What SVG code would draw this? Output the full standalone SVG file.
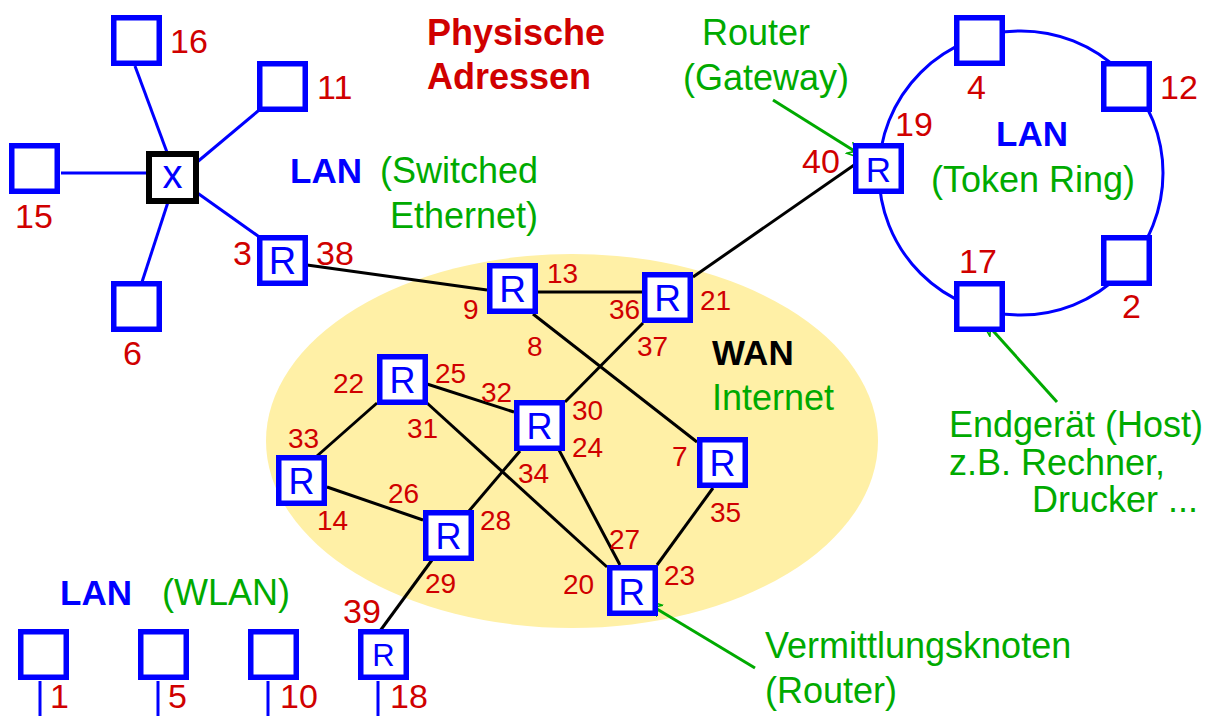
<svg xmlns="http://www.w3.org/2000/svg" width="1215" height="716" viewBox="0 0 1215 716">
<style>
.box{fill:#fff;stroke:#0000ff;stroke-width:5.5}
.sw{fill:#fff;stroke:#000;stroke-width:6}
.bl{stroke:#0000ff;stroke-width:3;fill:none}
.bk{stroke:#000;stroke-width:3;fill:none}
.gr{stroke:#00aa00;stroke-width:3;fill:none}
.num{font-family:"Liberation Sans",Arial,sans-serif;font-size:34px;fill:#d00000}
.sn{font-family:"Liberation Sans",Arial,sans-serif;font-size:28px;fill:#d00000}
.r{font-family:"Liberation Sans",Arial,sans-serif;font-size:36px;fill:#0000ff;text-anchor:middle}
.lan{font-family:"Liberation Sans",Arial,sans-serif;font-size:35px;font-weight:bold;fill:#0000ff}
.g{font-family:"Liberation Sans",Arial,sans-serif;font-size:36px;fill:#00aa00}
.title{font-family:"Liberation Sans",Arial,sans-serif;font-size:36px;font-weight:bold;fill:#d00000}
</style>
<defs>
<marker id="arr" markerUnits="userSpaceOnUse" markerWidth="30" markerHeight="16" refX="27" refY="7" orient="auto">
<path d="M27,7 L1,1 L7,7 L1,13 Z" fill="#fff" stroke="#00aa00" stroke-width="1.6"/>
</marker>
</defs>
<rect width="1215" height="716" fill="#fff"/>
<ellipse id="wan-area" cx="572" cy="441" rx="306" ry="187" fill="#fff0a6"/>
<circle id="ring" cx="1021" cy="173" r="142" class="bl"/>

<g id="connectors">
<line class="bl" x1="135" y1="66" x2="168" y2="155"/>
<line class="bl" x1="258" y1="111" x2="196" y2="163"/>
<line class="bl" x1="61" y1="173" x2="146" y2="173"/>
<line class="bl" x1="168" y1="202" x2="142" y2="282"/>
<line class="bl" x1="196" y1="192" x2="258" y2="236"/>
<line class="bl" x1="40" y1="681" x2="40" y2="716"/>
<line class="bl" x1="158" y1="681" x2="158" y2="716"/>
<line class="bl" x1="268" y1="681" x2="268" y2="716"/>
<line class="bl" x1="378" y1="681" x2="378" y2="716"/>
<line class="bk" x1="307" y1="265" x2="487" y2="290"/>
<line class="bk" x1="537" y1="292" x2="642" y2="292"/>
<line class="bk" x1="533" y1="314" x2="697" y2="442"/>
<line class="bk" x1="643" y1="323" x2="565" y2="402"/>
<line class="bk" x1="693" y1="277" x2="857" y2="163"/>
<line class="bk" x1="377" y1="403" x2="317" y2="456"/>
<line class="bk" x1="427" y1="384" x2="514" y2="412"/>
<line class="bk" x1="427" y1="403" x2="607" y2="567"/>
<line class="bk" x1="327" y1="487" x2="423" y2="520"/>
<line class="bk" x1="520" y1="451" x2="469" y2="511"/>
<line class="bk" x1="559" y1="450" x2="620" y2="565"/>
<line class="bk" x1="713" y1="488" x2="657" y2="565"/>
<line class="bk" x1="380" y1="631" x2="432" y2="560"/>
<line class="gr" x1="773" y1="100" x2="872" y2="162" marker-end="url(#arr)"/>
<line class="gr" x1="1057" y1="402" x2="977" y2="313" marker-end="url(#arr)"/>
<line class="gr" x1="755" y1="668" x2="637" y2="597" marker-end="url(#arr)"/>
</g>

<g id="n16"><rect class="box" x="113.75" y="17.75" width="45.5" height="45.5"/><text class="num" x="170" y="53">16</text></g>
<g id="n11"><rect class="box" x="259.75" y="63.75" width="45.5" height="45.5"/><text class="num" x="317" y="99">11</text></g>
<g id="n15"><rect class="box" x="11.75" y="145.75" width="45.5" height="45.5"/><text class="num" x="15" y="228">15</text></g>
<g id="n6"><rect class="box" x="113.75" y="283.75" width="45.5" height="45.5"/><text class="num" x="123" y="365">6</text></g>
<g id="switch"><rect class="sw" x="149" y="154" width="47" height="47"/><text x="172.5" y="188" font-family="Liberation Sans, Arial, sans-serif" font-size="40" fill="#0000ff" text-anchor="middle">x</text></g>
<g id="r3"><rect class="box" x="259.75" y="237.75" width="45.5" height="45.5"/><text class="r" x="282.5" y="274" style="font-size:38px">R</text><text class="num" x="233" y="265">3</text><text class="num" x="316" y="265">38</text></g>

<g id="n4"><rect class="box" x="956.75" y="17.75" width="45.5" height="45.5"/><text class="num" x="967" y="99">4</text></g>
<g id="n12"><rect class="box" x="1103.75" y="63.75" width="45.5" height="45.5"/><text class="num" x="1160" y="99">12</text></g>
<g id="r40"><rect class="box" x="855.75" y="145.75" width="45.5" height="45.5"/><text class="r" x="878.5" y="182" style="font-size:35px">R</text><text class="num" x="895" y="136">19</text><text class="num" x="802" y="173">40</text></g>
<g id="n2"><rect class="box" x="1103.75" y="237.75" width="45.5" height="45.5"/><text class="num" x="1122" y="318">2</text></g>
<g id="n17"><rect class="box" x="956.75" y="283.75" width="45.5" height="45.5"/><text class="num" x="959" y="273">17</text></g>

<g id="r9"><rect class="box" x="489.75" y="265.75" width="45.5" height="45.5"/><text class="r" x="512.5" y="302" style="font-size:37px">R</text><text class="sn" x="547" y="283">13</text><text class="sn" x="463" y="319">9</text><text class="sn" x="527" y="356">8</text></g>
<g id="r21"><rect class="box" x="644.75" y="274.75" width="45.5" height="45.5"/><text class="r" x="667.5" y="311" style="font-size:37px">R</text><text class="sn" x="609" y="319">36</text><text class="sn" x="700" y="310">21</text><text class="sn" x="637" y="356">37</text></g>
<g id="r22"><rect class="box" x="379.75" y="356.75" width="45.5" height="45.5"/><text class="r" x="402.5" y="392.5">R</text><text class="sn" x="333" y="393">22</text><text class="sn" x="435" y="383">25</text><text class="sn" x="407" y="438">31</text></g>
<g id="r30"><rect class="box" x="516.75" y="402.75" width="45.5" height="45.5"/><text class="r" x="539.5" y="438.5">R</text><text class="sn" x="481" y="402">32</text><text class="sn" x="572" y="420">30</text><text class="sn" x="572" y="457">24</text><text class="sn" x="518" y="483">34</text></g>
<g id="r14"><rect class="box" x="278.75" y="457.75" width="45.5" height="45.5"/><text class="r" x="301.5" y="493.5">R</text><text class="sn" x="288" y="448">33</text><text class="sn" x="317" y="530">14</text></g>
<g id="r28"><rect class="box" x="425.75" y="512.75" width="45.5" height="45.5"/><text class="r" x="448.5" y="548.5">R</text><text class="sn" x="388" y="503">26</text><text class="sn" x="480" y="530">28</text><text class="sn" x="425" y="593">29</text></g>
<g id="r7"><rect class="box" x="699.75" y="439.75" width="45.5" height="45.5"/><text class="r" x="722.5" y="475.5">R</text><text class="sn" x="672" y="466">7</text><text class="sn" x="710" y="522">35</text></g>
<g id="r20"><rect class="box" x="609.75" y="567.75" width="45.5" height="45.5"/><text class="r" x="631.5" y="605" style="font-size:37px">R</text><text class="sn" x="563" y="594">20</text><text class="sn" x="664" y="585">23</text><text class="sn" x="609" y="549">27</text></g>

<g id="n1"><rect class="box" x="20.75" y="631.75" width="45.5" height="45.5"/><text class="num" x="50" y="708">1</text></g>
<g id="n5"><rect class="box" x="140.75" y="631.75" width="45.5" height="45.5"/><text class="num" x="168" y="708">5</text></g>
<g id="n10"><rect class="box" x="250.75" y="631.75" width="45.5" height="45.5"/><text class="num" x="280" y="708">10</text></g>
<g id="r18"><rect class="box" x="360.75" y="631.75" width="45.5" height="45.5"/><text class="r" x="383.5" y="666" style="font-size:31px">R</text><text class="num" x="390" y="708">18</text><text class="num" x="343" y="623">39</text></g>

<g id="labels">
<text class="title" x="427" y="45">Physische</text>
<text class="title" x="427" y="89">Adressen</text>
<text class="g" x="702" y="45">Router</text>
<text class="g" x="683" y="90">(Gateway)</text>
<text class="lan" x="290" y="183">LAN</text>
<text class="g" x="380" y="183">(Switched</text>
<text class="g" x="538" y="228" text-anchor="end">Ethernet)</text>
<text class="lan" x="996" y="146">LAN</text>
<text class="g" x="931" y="192">(Token Ring)</text>
<text class="lan" x="712" y="365" style="fill:#000">WAN</text>
<text class="g" x="712" y="410">Internet</text>
<text class="g" x="949" y="437">Endgerät (Host)</text>
<text class="g" x="949" y="475">z.B. Rechner,</text>
<text class="g" x="1032" y="512">Drucker ...</text>
<text class="g" x="765" y="658">Vermittlungsknoten</text>
<text class="g" x="765" y="703">(Router)</text>
<text class="lan" x="60" y="605">LAN</text>
<text class="g" x="162" y="605">(WLAN)</text>
</g>
</svg>
